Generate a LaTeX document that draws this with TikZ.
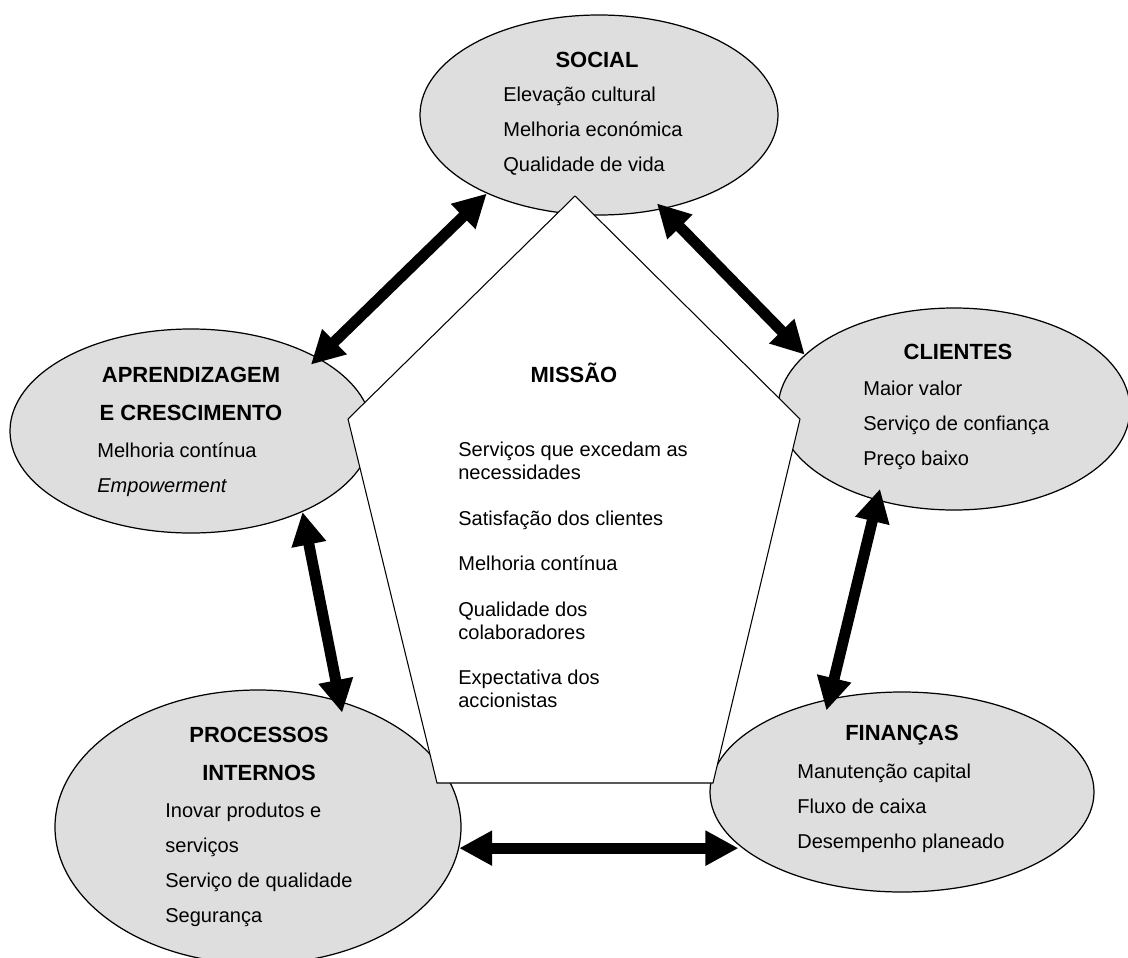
\documentclass[tikz,border=0pt]{standalone}
\usepackage{fontspec}
\setmainfont{Liberation Sans}
\usepackage{tikz}
\usetikzlibrary{arrows.meta, shapes.geometric}

\begin{document}
\begin{tikzpicture}[x=0.2mm, y=-0.2mm,
  persp/.style={ellipse, draw=black, line width=0.7pt, fill=black!13, inner sep=0pt},
  ttl/.style={font=\fontsize{12.5}{21.5}\selectfont\bfseries, align=center, inner sep=0pt},
  itm/.style={font=\fontsize{11.4}{19.9}\selectfont, align=left, anchor=west, inner sep=0pt},
  dbl/.style={line width=2.2mm, arrows={Triangle[length=6.6mm,width=6.6mm]-Triangle[length=6.6mm,width=6.6mm]}}]
\useasboundingbox (0,0) rectangle (1128,958);

\node[persp, minimum width=71.6mm, minimum height=40mm] (soc) at (599,115) {};
\node[persp, minimum width=72.4mm, minimum height=40.8mm] (apr) at (191,431) {};
\node[persp, minimum width=70.4mm, minimum height=40.4mm] (cli) at (954,409) {};
\node[persp, minimum width=76.8mm, minimum height=40mm] (fin) at (902,792) {};
\node[persp, minimum width=81.2mm, minimum height=54.8mm] (pro) at (258,827) {};

% mission pentagon
\draw[line width=0.6pt, fill=white] (575,196) -- (800,419) -- (713,783) -- (437,783) -- (348,419) -- cycle;

\node[ttl] (socT) at (597,60) {SOCIAL};
\node[itm] (socI) at (503,131.5) {Elevação cultural\\Melhoria económica\\Qualidade de vida};

\node[ttl] (aprT) at (191,394) {APRENDIZAGEM\\E CRESCIMENTO};
\node[itm] (aprI) at (97,469.5) {Melhoria contínua\\\textit{Empowerment}};

\node[ttl] (cliT) at (958,352) {CLIENTES};
\node[itm] (cliI) at (863,425) {Maior valor\\Serviço de confiança\\Preço baixo};

\node[ttl] (finT) at (902,735) {FINANÇAS};
\node[itm] (finI) at (797,808) {Manutenção capital\\Fluxo de caixa\\Desempenho planeado};

\node[ttl] (proT) at (259,754) {PROCESSOS\\INTERNOS};
\node[itm] (proI) at (165,864.5) {Inovar produtos e\\serviços\\Serviço de qualidade\\Segurança};

\node[ttl] (misT) at (574,373) {MISSÃO};
\node[itm, font=\fontsize{11.4}{13}\selectfont] (misI) at (458,575) {Serviços que excedam as\\necessidades\\[13pt]Satisfação dos clientes\\[13pt]Melhoria contínua\\[13pt]Qualidade dos\\colaboradores\\[13pt]Expectativa dos\\accionistas};

\draw[dbl, shorten >=-2mm] (soc.215) -- (apr.30);
\draw[dbl, shorten <=-1.6mm] (soc.304) -- (cli.160);
\draw[dbl, shorten >=-2.4mm] (apr.324) -- (pro.57);
\draw[dbl, shorten <=-2.4mm, shorten >=-2.4mm] (cli.230) -- (fin.128);
\draw[dbl] (pro.354) -- (pro.354 -| fin.198);
\end{tikzpicture}
\end{document}
